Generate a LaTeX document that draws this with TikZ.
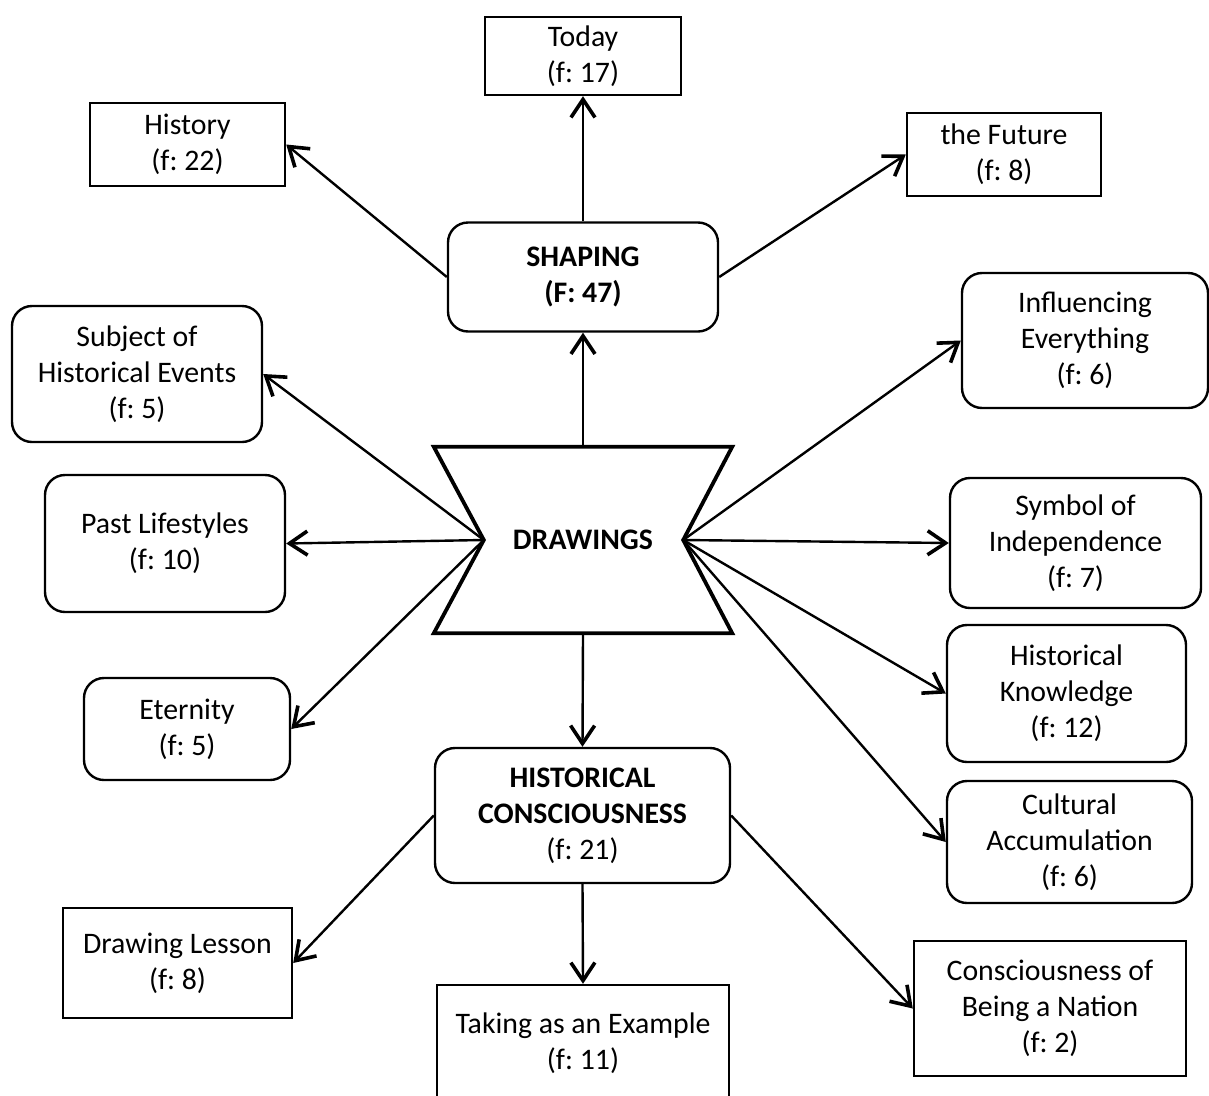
\documentclass[tikz,border=0pt]{standalone}
\usepackage{fontspec}
\setmainfont{Carlito}
\usepackage{tikz}
\usetikzlibrary{arrows.meta,calc}
\frenchspacing

\begin{document}
\begin{tikzpicture}[x=1pt,y=-1pt,
    every node/.style={font=\fontsize{29.8}{36}\selectfont,align=center,inner sep=0pt},
    plainbox/.style={draw,line width=2.4pt},
    roundbox/.style={draw,line width=2.4pt,rounded corners=20pt},
    link/.style={line width=2.4pt,-{Straight Barb[length=18pt,width=24pt,line width=3.6pt,sharp]}}]
    \useasboundingbox (0,0) rectangle (1209,1095);
    \node[draw=none,minimum width=298pt,minimum height=186pt] (drw) at (583,540) {\textbf{DRAWINGS}};
    \coordinate (drwL) at ($(drw.west)+(50,0)$);
    \coordinate (drwR) at ($(drw.east)+(-49,0)$);
    \draw[line width=3.8pt,line join=miter]
      (drw.north west) -- (drw.north east) -- (drwR) -- (drw.south east)
      -- (drw.south west) -- (drwL) -- cycle;
    \node[roundbox,minimum width=270pt,minimum height=109pt] (shp) at (583,277) {\textbf{SHAPING}\\\textbf{(F: 47)}};
    \node[plainbox,minimum width=196pt,minimum height=78pt] (today) at (583,56) {Today\\(f: 17)};
    \node[plainbox,minimum width=195pt,minimum height=83pt] (hist) at (187.5,144.5) {History\\(f: 22)};
    \node[plainbox,minimum width=194pt,minimum height=83pt] (fut) at (1004,154.5) {the Future\\(f: 8)};
    \node[roundbox,minimum width=250pt,minimum height=136pt] (subj) at (137,374) {Subject of\\Historical Events\\(f: 5)};
    \node[roundbox,minimum width=240pt,minimum height=137pt] (past) at (165,543.5) {Past Lifestyles\\(f: 10)};
    \node[roundbox,minimum width=206pt,minimum height=102pt] (etern) at (187,729) {Eternity\\(f: 5)};
    \node[roundbox,minimum width=246pt,minimum height=135pt] (infl) at (1085,340.5) {Influencing\\Everything\\(f: 6)};
    \node[roundbox,minimum width=251pt,minimum height=130pt] (symb) at (1075.5,543) {Symbol of\\Independence\\(f: 7)};
    \node[roundbox,minimum width=239pt,minimum height=137pt] (know) at (1066.5,693.5) {Historical\\Knowledge\\(f: 12)};
    \node[roundbox,minimum width=245pt,minimum height=122pt] (cult) at (1069.5,842) {Cultural\\Accumulation\\(f: 6)};
    \node[roundbox,minimum width=295pt,minimum height=135pt] (hc) at (582.5,815.5) {\textbf{HISTORICAL}\\\textbf{CONSCIOUSNESS}\\(f: 21)};
    \node[plainbox,minimum width=229pt,minimum height=110pt] (lesson) at (177.5,963) {Drawing Lesson\\(f: 8)};
    \node[plainbox,minimum width=292pt,minimum height=116pt] (take) at (583,1043) {Taking as an Example\\(f: 11)};
    \node[plainbox,minimum width=272pt,minimum height=135pt] (nation) at (1050,1008.5) {Consciousness of\\Being a Nation\\(f: 2)};
    \draw[link] (shp.north) -- (today.south);
    \draw[link] (shp.west) -- (hist.east);
    \draw[link] (shp.east) -- (fut.west);
    \draw[link] (drw.north) -- (shp.south);
    \draw[link] (drw.south) -- (hc.north);
    \foreach \t in {subj,past,etern} {
      \draw[link] (drwL) -- (\t.east);
    }
    \foreach \t in {infl,symb,know,cult} {
      \draw[link] (drwR) -- (\t.west);
    }
    \draw[link] (hc.west) -- (lesson.east);
    \draw[link] (hc.south) -- (take.north);
    \draw[link] (hc.east) -- (nation.west);
  \end{tikzpicture}
\end{document}
